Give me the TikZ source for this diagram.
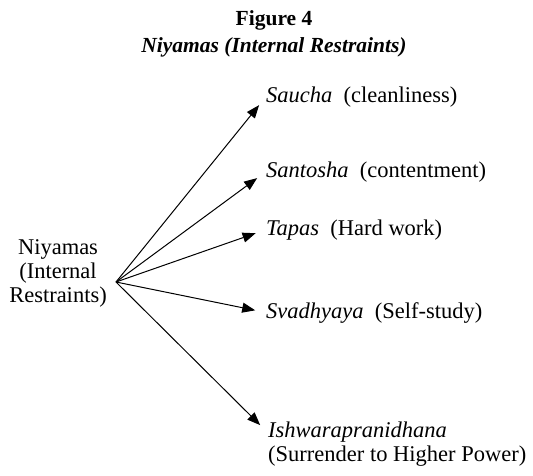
\documentclass[tikz,border=0pt]{standalone}
\usepackage{fontspec}
\setmainfont{Liberation Serif}
\usetikzlibrary{arrows.meta}

\begin{document}
\begin{tikzpicture}[x=1pt,y=-1pt,>={Triangle[length=13pt,width=10pt]},
    title/.style={font=\fontsize{21.5}{24}\selectfont\bfseries,inner sep=0pt},
    item/.style={anchor=base west,inner sep=0pt,font=\fontsize{22.5}{23.5}\selectfont},
    root/.style={align=center,inner sep=0pt,font=\fontsize{22.5}{24}\selectfont},
    spoke/.style={->,line width=1pt,shorten >=11pt}]
  \useasboundingbox (0,0) rectangle (533,475);
  \node[title,anchor=base] (fig) at (274,25) {Figure 4};
  \node[title,anchor=base] (sub) at (274,52) {\itshape Niyamas (Internal Restraints)};
  \node[root,anchor=base] (niy) at (58,302) {Niyamas\\(Internal\\Restraints)};
  \coordinate (hub) at (116,282);
  \node[item] (sau) at (266,102) {\textit{Saucha}\ \ (cleanliness)};
  \node[item] (san) at (266,177) {\textit{Santosha}\ \ (contentment)};
  \node[item] (tap) at (266,235) {\textit{Tapas}\ \ (Hard work)};
  \node[item] (sva) at (266,318) {\textit{Svadhyaya}\ \ (Self-study)};
  \node[item,align=left] (ish) at (268,461) {\textit{Ishwarapranidhana}\\(Surrender to Higher Power)};
  \draw[spoke] (hub) -- (sau.west);
  \draw[spoke] (hub) -- (san.west);
  \draw[spoke] (hub) -- (tap.west);
  \draw[spoke] (hub) -- (sva.west);
  \draw[spoke] (hub) -- ([yshift=11pt]ish.west);
\end{tikzpicture}
\end{document}
